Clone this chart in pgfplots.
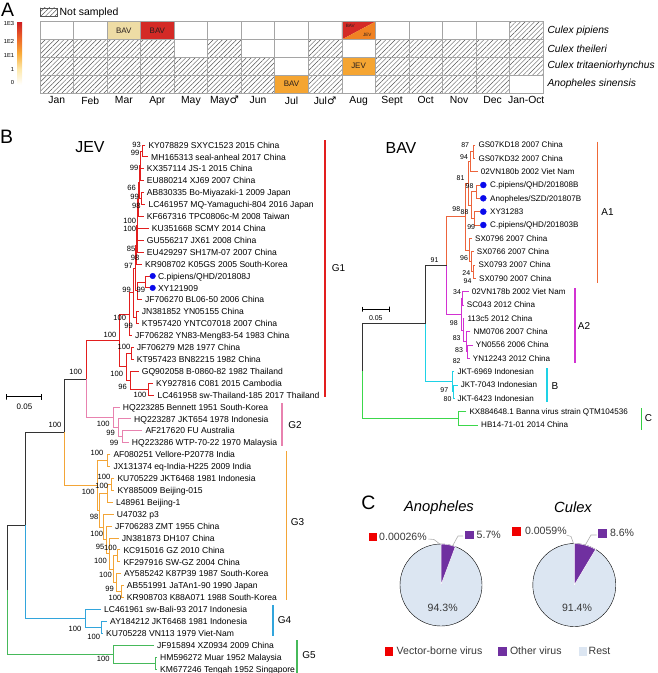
\documentclass[border=0pt]{standalone}
\usepackage{pgfplots}
\pgfplotsset{compat=1.18}
\usepackage{fontspec}
\setmainfont{Liberation Sans}
\newfontfamily\dejavu{DejaVu Sans}
\usetikzlibrary{patterns.meta}
\newcommand{\fs}[1]{\fontsize{#1}{#1}\selectfont}
\definecolor{cellgrid}{RGB}{165,165,165}
\definecolor{hatchc}{RGB}{85,85,85}
\definecolor{beige}{RGB}{238,220,165}
\definecolor{bavred}{RGB}{212,42,38}
\definecolor{bavorange}{RGB}{245,165,50}
\definecolor{jevorange}{RGB}{240,130,35}
\definecolor{celltext}{RGB}{40,30,30}
\definecolor{cGa}{RGB}{226,30,30}
\definecolor{cGb}{RGB}{232,130,175}
\definecolor{cGc}{RGB}{243,165,55}
\definecolor{cGd}{RGB}{50,165,220}
\definecolor{cGe}{RGB}{70,185,90}
\definecolor{cAa}{RGB}{236,100,60}
\definecolor{cAb}{RGB}{210,50,210}
\definecolor{cBb}{RGB}{30,210,230}
\definecolor{cCc}{RGB}{60,215,75}
\definecolor{dotblue}{RGB}{10,10,235}
\definecolor{restc}{RGB}{220,230,242}
\definecolor{otherc}{RGB}{112,48,160}
\definecolor{vecc}{RGB}{240,0,0}
\definecolor{darktext}{RGB}{55,55,55}
\definecolor{leader}{RGB}{175,175,175}
\tikzset{
  hatch/.style={pattern={Lines[angle=45,distance=3.3bp,line width=0.45bp]}, pattern color=hatchc},
  lf/.style={anchor=west, inner sep=0pt, font=\fs{8.6}, text height=6.2bp, text depth=0bp},
  lfb/.style={anchor=west, inner sep=0pt, font=\fs{8.1}, text height=5.8bp, text depth=0bp},
  bs/.style={inner sep=0pt, font=\fs{7.6}},
  bsb/.style={inner sep=0pt, font=\fs{7.0}},
  cl/.style={inner sep=0pt, font=\fs{10}},
}
\pgfplotsset{tr/.style={line width=0.95bp, mark=none}, cbar/.style={line width=1.6bp, mark=none}}
\begin{document}
\begin{tikzpicture}
\useasboundingbox (0,0) rectangle (658bp,673bp);
% ---------------- Panel A: heatmap ----------------
\begin{axis}[
  at={(40bp,580bp)}, anchor=south west,
  scale only axis, width=503bp, height=71.3bp,
  xmin=0, xmax=15, ymin=0, ymax=4,
  axis line style={cellgrid, line width=0.6bp},
  xtick={0.5,1.5,...,14.5},
  xticklabels={Jan,Feb,Mar,Apr,May,May{\dejavu ♂},Jun,Jul,Jul{\dejavu ♂},Aug,Sept,Oct,Nov,Dec,Jan-Oct},
  xticklabel style={font=\fs{10.4}},
  ytick={0.5,1.5,2.5,3.5},
  yticklabels={Anopheles sinensis,Culex tritaeniorhynchus,Culex theileri,Culex pipiens},
  yticklabel pos=right,
  yticklabel style={font=\itshape\fs{10.3}, xshift=1bp},
  major tick length=0pt, minor tick length=0pt,
  minor xtick={1,...,14}, minor ytick={1,2,3},
  xminorgrids, yminorgrids,
  minor grid style={cellgrid, line width=0.6bp},
  axis on top,
  colorbar left,
  colormap={heat}{rgb255=(255,255,255) rgb255=(253,232,170) rgb255=(249,170,55) rgb255=(236,98,40) rgb255=(205,28,34)},
  point meta min=0, point meta max=4,
  colorbar style={at={(parent axis.north west)}, anchor=north east, xshift=-9.3bp,
    width=4.6bp, height=63bp,
    ytick={0.13,0.95,1.86,2.75,3.87}, yticklabels={0,1,1E1,1E2,1E3},
    yticklabel style={font=\fs{5.8}}, major tick length=0pt, axis line style={draw=none}},
  legend style={at={(0,1)}, anchor=south west, yshift=3bp, draw=none, fill=none,
    font=\fs{10.5}, inner sep=0pt},
]
\addlegendimage{legend image code/.code={\draw[hatch, draw=hatchc, line width=0.5bp] (0bp,-4bp) rectangle (17bp,4bp);}}
\addlegendentry{Not sampled}
% not sampled cells
\addplot[draw=none, hatch, forget plot] coordinates {(0,0) (4,0) (4,3) (0,3)};
\addplot[draw=none, hatch, forget plot] coordinates {(4,0) (5,0) (5,2) (4,2)};
\addplot[draw=none, hatch, forget plot] coordinates {(5,0) (6,0) (6,3) (5,3)};
\addplot[draw=none, hatch, forget plot] coordinates {(6,0) (7,0) (7,2) (6,2)};
\addplot[draw=none, hatch, forget plot] coordinates {(8,0) (9,0) (9,3) (8,3)};
\addplot[draw=none, hatch, forget plot] coordinates {(10,0) (14,0) (14,3) (10,3)};
\addplot[draw=none, hatch, forget plot] coordinates {(14,1) (15,1) (15,4) (14,4)};
% virus detections
\addplot[draw=none, fill=beige, forget plot] coordinates {(2,3) (3,3) (3,4) (2,4)};
\addplot[draw=none, fill=bavred, forget plot] coordinates {(3,3) (4,3) (4,4) (3,4)};
\addplot[draw=none, fill=bavorange, forget plot] coordinates {(7,0) (8,0) (8,1) (7,1)};
\addplot[draw=none, fill=bavorange, forget plot] coordinates {(9,1) (10,1) (10,2) (9,2)};
\addplot[draw=none, fill=bavred, forget plot] coordinates {(9,3) (9,4) (10,4)};
\addplot[draw=none, fill=jevorange, forget plot] coordinates {(9,3) (10,3) (10,4)};
\node[font=\fs{8}, text=celltext] at (axis cs:2.5,3.5) {BAV};
\node[font=\fs{8}, text=celltext] at (axis cs:3.5,3.5) {BAV};
\node[font=\fs{8}, text=celltext] at (axis cs:7.5,0.5) {BAV};
\node[font=\fs{8}, text=celltext] at (axis cs:9.5,1.5) {JEV};
\node[font=\fs{4.6}, text=celltext] at (axis cs:9.25,3.78) {BAV};
\node[font=\fs{4.6}, text=celltext] at (axis cs:9.76,3.26) {JEV};
\end{axis}
% ---------------- Panels B and C ----------------
\begin{axis}[at={(0,0)}, anchor=south west, scale only axis, width=658bp, height=673bp,
  xmin=0, xmax=658, ymin=0, ymax=673, y dir=reverse, hide axis, clip=false,
  clip mode=individual]
\node[font=\fs{19.5}] at (axis cs:7.5,10.3) {A};
\node[font=\fs{19.5}] at (axis cs:6.7,136.7) {B};
\node[font=\fs{19.5}] at (axis cs:368.3,503.3) {C};
\node[font=\fs{16}] at (axis cs:90,147.5) {JEV};
\node[font=\fs{16}] at (axis cs:401,148.5) {BAV};
% ===== JEV tree =====
% G1 (red)
\addplot[tr,cGa] coordinates {(145.3,145.0) (142.5,145.0) (142.5,156.9) (148,156.9)};
\addplot[tr,cGa] coordinates {(142.5,151) (140.5,151) (140.5,180.7) (143.7,180.7)};
\addplot[tr,cGa] coordinates {(140.5,168.8) (143.7,168.8)};
\addplot[tr,cGa] coordinates {(143.7,192.6) (141.5,192.6) (141.5,204.6) (145.3,204.6)};
\addplot[tr,cGa] coordinates {(140.5,165.8) (139.5,165.8) (139.5,198.6) (141.5,198.6)};
\addplot[tr,cGa] coordinates {(139.5,182.2) (138.5,182.2) (138.5,216.5) (143.7,216.5)};
\addplot[tr,cGa] coordinates {(138.5,199.4) (137.5,199.4) (137.5,252.2) (143.7,252.2)};
\addplot[tr,cGa] coordinates {(137.5,228.4) (148.7,228.4)};
\addplot[tr,cGa] coordinates {(137.5,240.3) (143.7,240.3)};
\addplot[tr,cGa] coordinates {(137.5,225.8) (136.5,225.8) (136.5,264.1) (142,264.1)};
\addplot[tr,cGa] coordinates {(150,276.0) (145,276.0) (145,287.9) (150,287.9)};
\addplot[tr,cGa] coordinates {(145,282) (137,282) (137,299.8) (142,299.8)};
\addplot[tr,cGa] coordinates {(136.5,245) (135,245) (135,290.9) (137,290.9)};
\addplot[tr,cGa] coordinates {(138.7,311.7) (136,311.7) (136,323.7) (138.7,323.7)};
\addplot[tr,cGa] coordinates {(135,268) (133,268) (133,317.7) (136,317.7)};
\addplot[tr,cGa] coordinates {(133,292.8) (129.5,292.8) (129.5,335.6) (132,335.6)};
\addplot[tr,cGa] coordinates {(133.7,347.5) (131,347.5) (131,359.4) (133.7,359.4)};
\addplot[tr,cGa] coordinates {(153,383.2) (148,383.2) (148,395.1) (154.3,395.1)};
\addplot[tr,cGa] coordinates {(138.7,371.3) (130,371.3) (130,389.2) (148,389.2)};
\addplot[tr,cGa] coordinates {(131,353.5) (126,353.5) (126,380.2) (130,380.2)};
\addplot[tr,cGa] coordinates {(129.5,314.2) (119,314.2) (119,366.9) (126,366.9)};
\addplot[tr,cGa] coordinates {(119,340.5) (86,340.5) (86,379)};
% G2 (pink)
\addplot[tr,cGb] coordinates {(86,379) (86,417.4) (113,417.4)};
\addplot[tr,cGb] coordinates {(142.3,430.8) (122,430.8) (122,442.8) (128.7,442.8)};
\addplot[tr,cGb] coordinates {(131,418.9) (118,418.9) (118,436.8) (122,436.8)};
\addplot[tr,cGb] coordinates {(119.7,407.0) (113,407.0) (113,427.9) (118,427.9)};
% backbone
\addplot[tr,black!80] coordinates {(86,379) (64,379) (64,432.3)};
\addplot[tr,cGc] coordinates {(64,432.3) (64,485.5) (97,485.5)};
% G3 (orange)
\addplot[tr,cGc] coordinates {(110.3,454.7) (107,454.7) (107,466.6) (110.3,466.6)};
\addplot[tr,cGc] coordinates {(114.3,478.5) (111,478.5) (111,490.4) (114.3,490.4)};
\addplot[tr,cGc] coordinates {(111,484.5) (107,484.5) (107,502.3) (113,502.3)};
\addplot[tr,cGc] coordinates {(120.3,549.9) (117,549.9) (117,561.9) (120.3,561.9)};
\addplot[tr,cGc] coordinates {(123.7,585.7) (121,585.7) (121,597.6) (123.7,597.6)};
\addplot[tr,cGc] coordinates {(121,573.8) (116,573.8) (116,591.7) (121,591.7)};
\addplot[tr,cGc] coordinates {(117,555.9) (113,555.9) (113,582.8) (116,582.8)};
\addplot[tr,cGc] coordinates {(118.7,538.0) (109,538.0) (109,569.4) (113,569.4)};
\addplot[tr,cGc] coordinates {(112,526.1) (106,526.1) (106,553.7) (109,553.7)};
\addplot[tr,cGc] coordinates {(113.7,514.2) (103,514.2) (103,539.9) (106,539.9)};
\addplot[tr,cGc] coordinates {(107,493.4) (99,493.4) (99,527.1) (103,527.1)};
\addplot[tr,cGc] coordinates {(107,460.7) (97,460.7) (97,510.3) (99,510.3)};
% G4 (blue)
\addplot[tr,black!80] coordinates {(64,432.3) (25,432.3) (25,525.4)};
\addplot[tr,cGd] coordinates {(25,525.4) (25,618.5) (85,618.5)};
\addplot[tr,cGd] coordinates {(107,621.4) (101,621.4) (101,633.3) (103,633.3)};
\addplot[tr,cGd] coordinates {(101,609.5) (85,609.5) (85,627.4) (101,627.4)};
% root and G5 (green)
\addplot[tr,black!80] coordinates {(25,525.4) (7,525.4) (7,589.8)};
\addplot[tr,cGe] coordinates {(7,589.8) (7,654.2) (113,654.2)};
\addplot[tr,cGe] coordinates {(157,657.1) (155.5,657.1) (155.5,669.0) (157,669.0)};
\addplot[tr,cGe] coordinates {(154,645.2) (113,645.2) (113,663.1) (155.5,663.1)};
% blue dots
\addplot[only marks, mark=*, mark size=2.8bp, dotblue] coordinates {(152.7,276.0) (152.7,287.9)};
% JEV leaf labels
\node[lf] at (axis cs:148.3,145.0) {KY078829 SXYC1523 2015 China};
\node[lf] at (axis cs:151.0,156.9) {MH165313 seal-anheal 2017 China};
\node[lf] at (axis cs:146.7,168.8) {KX357114 JS-1 2015 China};
\node[lf] at (axis cs:146.7,180.7) {EU880214 XJ69 2007 China};
\node[lf] at (axis cs:146.7,192.6) {AB830335 Bo-Miyazaki-1 2009 Japan};
\node[lf] at (axis cs:148.3,204.6) {LC461957 MQ-Yamaguchi-804 2016 Japan};
\node[lf] at (axis cs:146.7,216.5) {KF667316 TPC0806c-M 2008 Taiwan};
\node[lf] at (axis cs:151.7,228.4) {KU351668 SCMY 2014 China};
\node[lf] at (axis cs:146.7,240.3) {GU556217 JX61 2008 China};
\node[lf] at (axis cs:146.7,252.2) {EU429297 SH17M-07 2007 China};
\node[lf] at (axis cs:145.0,264.1) {KR908702 K05GS 2005 South-Korea};
\node[lf] at (axis cs:157.8,276.0) {C.pipiens/QHD/201808J};
\node[lf] at (axis cs:157.8,287.9) {XY121909};
\node[lf] at (axis cs:145.0,299.8) {JF706270 BL06-50 2006 China};
\node[lf] at (axis cs:141.7,311.7) {JN381852 YN05155 China};
\node[lf] at (axis cs:141.7,323.7) {KT957420 YNTC07018 2007 China};
\node[lf] at (axis cs:135.0,335.6) {JF706282 YN83-Meng83-54 1983 China};
\node[lf] at (axis cs:136.7,347.5) {JF706279 M28 1977 China};
\node[lf] at (axis cs:136.7,359.4) {KT957423 BN82215 1982 China};
\node[lf] at (axis cs:141.7,371.3) {GQ902058 B-0860-82 1982 Thailand};
\node[lf] at (axis cs:156.0,383.2) {KY927816 C081 2015 Cambodia};
\node[lf] at (axis cs:157.3,395.1) {LC461958 sw-Thailand-185 2017 Thailand};
\node[lf] at (axis cs:122.7,407.0) {HQ223285 Bennett 1951 South-Korea};
\node[lf] at (axis cs:134.0,418.9) {HQ223287 JKT654 1978 Indonesia};
\node[lf] at (axis cs:145.3,430.8) {AF217620 FU Australia};
\node[lf] at (axis cs:131.7,442.8) {HQ223286 WTP-70-22 1970 Malaysia};
\node[lf] at (axis cs:113.3,454.7) {AF080251 Vellore-P20778 India};
\node[lf] at (axis cs:113.3,466.6) {JX131374 eq-India-H225 2009 India};
\node[lf] at (axis cs:117.3,478.5) {KU705229 JKT6468 1981 Indonesia};
\node[lf] at (axis cs:117.3,490.4) {KY885009 Beijing-015};
\node[lf] at (axis cs:116.0,502.3) {L48961 Beijing-1};
\node[lf] at (axis cs:116.7,514.2) {U47032 p3};
\node[lf] at (axis cs:115.0,526.1) {JF706283 ZMT 1955 China};
\node[lf] at (axis cs:121.7,538.0) {JN381873 DH107 China};
\node[lf] at (axis cs:123.3,549.9) {KC915016 GZ 2010 China};
\node[lf] at (axis cs:123.3,561.9) {KF297916 SW-GZ 2004 China};
\node[lf] at (axis cs:124.0,573.8) {AY585242 K87P39 1987 South-Korea};
\node[lf] at (axis cs:126.7,585.7) {AB551991 JaTAn1-90 1990 Japan};
\node[lf] at (axis cs:126.7,597.6) {KR908703 K88A071 1988 South-Korea};
\node[lf] at (axis cs:104.0,609.5) {LC461961 sw-Bali-93 2017 Indonesia};
\node[lf] at (axis cs:110.0,621.4) {AY184212 JKT6468 1981 Indonesia};
\node[lf] at (axis cs:106.0,633.3) {KU705228 VN113 1979 Viet-Nam};
\node[lf] at (axis cs:157.0,645.2) {JF915894 XZ0934 2009 China};
\node[lf] at (axis cs:160.0,657.1) {HM596272 Muar 1952 Malaysia};
\node[lf] at (axis cs:160.0,669.0) {KM677246 Tengah 1952 Singapore};
% JEV bootstrap values
\node[bs] at (axis cs:136.7,145) {93};
\node[bs] at (axis cs:135,153.3) {99};
\node[bs] at (axis cs:134,167.7) {99};
\node[bs] at (axis cs:131.5,188.3) {66};
\node[bs] at (axis cs:134.5,196.5) {99};
\node[bs] at (axis cs:136.3,205.5) {98};
\node[bs] at (axis cs:129.7,220.7) {100};
\node[bs] at (axis cs:129.7,228.6) {100};
\node[bs] at (axis cs:131,249) {85};
\node[bs] at (axis cs:135,258.3) {98};
\node[bs] at (axis cs:128.5,265.5) {97};
\node[bs] at (axis cs:126.7,290) {99};
\node[bs] at (axis cs:140.8,290) {99};
\node[bs] at (axis cs:119.7,318.3) {100};
\node[bs] at (axis cs:128.7,325.5) {99};
\node[bs] at (axis cs:110,335) {100};
\node[bs] at (axis cs:124,346.7) {100};
\node[bs] at (axis cs:116.7,374) {100};
\node[bs] at (axis cs:122.5,387.3) {96};
\node[bs] at (axis cs:140,395) {100};
\node[bs] at (axis cs:75.8,372.3) {100};
\node[bs] at (axis cs:55,425) {100};
\node[bs] at (axis cs:103.3,424) {100};
\node[bs] at (axis cs:110.5,433.3) {99};
\node[bs] at (axis cs:114,442.7) {99};
\node[bs] at (axis cs:97,453.3) {100};
\node[bs] at (axis cs:104,476.8) {100};
\node[bs] at (axis cs:101.7,485.5) {100};
\node[bs] at (axis cs:88.3,491.7) {100};
\node[bs] at (axis cs:94,516.7) {98};
\node[bs] at (axis cs:96.7,534) {100};
\node[bs] at (axis cs:100,546.7) {95};
\node[bs] at (axis cs:110.5,547.7) {100};
\node[bs] at (axis cs:100.5,561) {100};
\node[bs] at (axis cs:105.5,575) {100};
\node[bs] at (axis cs:109.7,589.3) {99};
\node[bs] at (axis cs:115,598.3) {100};
\node[bs] at (axis cs:75,629.3) {100};
\node[bs] at (axis cs:93.7,637.3) {100};
\node[bs] at (axis cs:103.3,659.3) {100};
% JEV clade bars
\addplot[cbar, cGa] coordinates {(325,140) (325,397)};
\addplot[cbar, cGb] coordinates {(282,403) (282,446)};
\addplot[cbar, cGc] coordinates {(286.5,451) (286.5,600)};
\addplot[cbar, cGd] coordinates {(273,605) (273,636)};
\addplot[cbar, cGe] coordinates {(297,640) (297,673)};
\node[cl] at (axis cs:338.5,268) {G1};
\node[cl] at (axis cs:295,425) {G2};
\node[cl] at (axis cs:297.5,522) {G3};
\node[cl] at (axis cs:284.5,620.5) {G4};
\node[cl] at (axis cs:309,655) {G5};
% JEV scale bar
\addplot[black, line width=0.8bp] coordinates {(6.7,394) (6.7,399.5) (6.7,396.7) (41.7,396.7) (41.7,394) (41.7,399.5)};
\node[inner sep=0pt, font=\fs{8}] at (axis cs:24.5,407) {0.05};
% ===== BAV tree =====
\addplot[tr,cAa] coordinates {(475.3,145.0) (473,145.0) (473,158.3) (475.3,158.3)};
\addplot[tr,cAa] coordinates {(473,151.7) (470,151.7) (470,171.7) (477.7,171.7)};
\addplot[tr,cAa] coordinates {(480,185.0) (476,185.0) (476,198.3) (480,198.3)};
\addplot[tr,cAa] coordinates {(480,211.7) (474,211.7) (474,225.0) (480,225.0)};
\addplot[tr,cAa] coordinates {(476,191.7) (471,191.7) (471,218.3) (474,218.3)};
\addplot[tr,cAa] coordinates {(470,161.7) (468,161.7) (468,205) (471,205)};
\addplot[tr,cAa] coordinates {(475.3,265.0) (473,265.0) (473,278.3) (476,278.3)};
\addplot[tr,cAa] coordinates {(473.7,251.6) (471,251.6) (471,271.7) (473,271.7)};
\addplot[tr,cAa] coordinates {(472,238.3) (469,238.3) (469,261.7) (471,261.7)};
\addplot[tr,cAa] coordinates {(468,183.3) (465,183.3) (465,250) (469,250)};
\addplot[tr,cAa] coordinates {(465,216.7) (446.7,216.7) (446.7,265.5)};
\addplot[tr,cAb] coordinates {(446.7,265.5) (446.7,314.2) (461,314.2)};
\addplot[tr,cAb] coordinates {(468.7,291.6) (462.5,291.6) (462.5,305.0) (463.7,305.0)};
\addplot[tr,cAb] coordinates {(472.7,345.0) (467.5,345.0) (467.5,358.3) (469.7,358.3)};
\addplot[tr,cAb] coordinates {(470.3,331.6) (466,331.6) (466,351.7) (467.5,351.7)};
\addplot[tr,cAb] coordinates {(464.3,318.3) (463,318.3) (463,341.7) (466,341.7)};
\addplot[tr,cAb] coordinates {(462.5,298.3) (461,298.3) (461,330) (463,330)};
\addplot[tr,black!80] coordinates {(446.7,265.5) (425.7,265.5) (425.7,323.6)};
\addplot[tr,cBb] coordinates {(425.7,323.6) (425.7,381.7) (452,381.7)};
\addplot[tr,cBb] coordinates {(457.7,385.0) (453,385.0) (453,398.3) (454.5,398.3)};
\addplot[tr,cBb] coordinates {(454.3,371.6) (452,371.6) (452,391.7) (453,391.7)};
\addplot[tr,black!80] coordinates {(425.7,323.6) (362.7,323.6) (362.7,371)};
\addplot[tr,cCc] coordinates {(362.7,371) (362.7,418.3) (458.3,418.3)};
\addplot[tr,cCc] coordinates {(466.3,411.6) (458.3,411.6) (458.3,425.0) (478,425.0)};
\addplot[only marks, mark=*, mark size=3bp, dotblue] coordinates {(483.3,185.0) (483.3,198.3) (483.3,211.7) (483.3,225.0)};
% BAV leaf labels
\node[lfb] at (axis cs:478.3,145.0) {GS07KD18 2007 China};
\node[lfb] at (axis cs:478.3,158.3) {GS07KD32 2007 China};
\node[lfb] at (axis cs:480.7,171.7) {02VN180b 2002 Viet Nam};
\node[lfb] at (axis cs:490,185.0) {C.pipiens/QHD/201808B};
\node[lfb] at (axis cs:490,198.3) {Anopheles/SZD/201807B};
\node[lfb] at (axis cs:490,211.7) {XY31283};
\node[lfb] at (axis cs:490,225.0) {C.pipiens/QHD/201803B};
\node[lfb] at (axis cs:475.0,238.3) {SX0796 2007 China};
\node[lfb] at (axis cs:476.7,251.6) {SX0766 2007 China};
\node[lfb] at (axis cs:478.3,265.0) {SX0793 2007 China};
\node[lfb] at (axis cs:479.0,278.3) {SX0790 2007 China};
\node[lfb] at (axis cs:471.7,291.6) {02VN178b 2002 Viet Nam};
\node[lfb] at (axis cs:466.7,305.0) {SC043 2012 China};
\node[lfb] at (axis cs:467.3,318.3) {113c5 2012 China};
\node[lfb] at (axis cs:473.3,331.6) {NM0706 2007 China};
\node[lfb] at (axis cs:475.7,345.0) {YN0556 2006 China};
\node[lfb] at (axis cs:472.7,358.3) {YN12243 2012 China};
\node[lfb] at (axis cs:457.3,371.6) {JKT-6969 Indonesian};
\node[lfb] at (axis cs:460.7,385.0) {JKT-7043 Indonesian};
\node[lfb] at (axis cs:457.3,398.3) {JKT-6423 Indonesian};
\node[lfb] at (axis cs:469.3,411.6) {KX884648.1 Banna virus strain QTM104536};
\node[lfb] at (axis cs:481.0,425.0) {HB14-71-01 2014 China};
% BAV bootstrap values
\node[bsb] at (axis cs:465.2,145) {87};
\node[bsb] at (axis cs:464,156.7) {94};
\node[bsb] at (axis cs:460.5,178.3) {81};
\node[bsb] at (axis cs:469.5,186) {98};
\node[bsb] at (axis cs:456.3,209.5) {98};
\node[bsb] at (axis cs:464.5,212.2) {88};
\node[bsb] at (axis cs:471.2,226.7) {99};
\node[bsb] at (axis cs:464,257.7) {96};
\node[bsb] at (axis cs:466.3,272.8) {24};
\node[bsb] at (axis cs:467.5,281.2) {94};
\node[bsb] at (axis cs:434.5,260) {91};
\node[bsb] at (axis cs:457,291.7) {34};
\node[bsb] at (axis cs:453.8,323.3) {98};
\node[bsb] at (axis cs:456.7,338.3) {83};
\node[bsb] at (axis cs:459,350) {83};
\node[bsb] at (axis cs:456.7,360.9) {82};
\node[bsb] at (axis cs:444.3,390) {97};
\node[bsb] at (axis cs:447.5,399.5) {80};
% BAV clade bars
\addplot[cbar, draw={rgb,255:red,238;green,105;blue,55}] coordinates {(597.5,141.7) (597.5,283.3)};
\addplot[cbar, color=cAb] coordinates {(575,288.3) (575,363.3)};
\addplot[cbar, color=cBb] coordinates {(546.7,368.3) (546.7,401.7)};
\addplot[cbar, draw={rgb,255:red,50;green,205;blue,65}] coordinates {(641.5,408.3) (641.5,430)};
\node[cl] at (axis cs:607.5,211.7) {A1};
\node[cl] at (axis cs:584,325.7) {A2};
\node[cl] at (axis cs:555,385.7) {B};
\node[cl] at (axis cs:648.5,418.3) {C};
% BAV scale bar
\addplot[black, line width=0.8bp] coordinates {(362.7,306.5) (362.7,311.5) (362.7,309) (389.3,309) (389.3,306.5) (389.3,311.5)};
\node[inner sep=0pt, font=\fs{7}] at (axis cs:375.8,318.3) {0.05};
% ===== Panel C: pies =====
\node[font=\itshape\fs{14.8}] at (axis cs:439,507.5) {Anopheles};
\node[font=\itshape\fs{14.8}] at (axis cs:573,507.5) {Culex};
\addplot[only marks, mark=*, mark size=41bp, mark options={fill=restc, draw=none}] coordinates {(441,585)};
\addplot[fill=otherc, draw=white, line width=0.5bp] coordinates {(441,585) (441,544) (444.5,544.15) (448.3,544.66) (451.9,545.47) (455.37,546.6) (441,585)};
\addplot[only marks, mark=*, mark size=41.5bp, mark options={fill=restc, draw=none}] coordinates {(574.3,585)};
\addplot[fill=otherc, draw=white, line width=0.5bp] coordinates {(574.3,585) (574.3,543.5) (579.9,543.9) (585.4,545.0) (590.7,546.9) (595.6,549.4) (574.3,585)};
% leader lines
\addplot[leader, line width=0.6bp] coordinates {(428.5,539) (434,539.5) (440.5,544.5)};
\addplot[leader, line width=0.6bp] coordinates {(452.5,546) (458,536) (463,536)};
\addplot[leader, line width=0.6bp] coordinates {(566.5,535) (571,536.5) (573.5,543.5)};
\addplot[leader, line width=0.6bp] coordinates {(585,545.5) (591,535) (596.5,535)};
% squares
\addplot[only marks, mark=square*, mark size=3.7bp, vecc] coordinates {(372.5,536.8) (516.3,531.2) (388.8,651.2)};
\addplot[only marks, mark=square*, mark size=3.7bp, otherc] coordinates {(469.2,534.5) (602.2,533) (502.2,651.2)};
\addplot[only marks, mark=square*, mark size=3.7bp, restc] coordinates {(582.5,651.2)};
\node[anchor=west, inner sep=0pt, font=\fs{10.6}, text=darktext] at (axis cs:379,537) {0.00026\%};
\node[anchor=west, inner sep=0pt, font=\fs{10.6}, text=darktext] at (axis cs:476.5,534.5) {5.7\%};
\node[anchor=west, inner sep=0pt, font=\fs{10.6}, text=darktext] at (axis cs:524.8,531.2) {0.0059\%};
\node[anchor=west, inner sep=0pt, font=\fs{10.6}, text=darktext] at (axis cs:609.8,533) {8.6\%};
\node[inner sep=0pt, font=\fs{10.6}, text=darktext] at (axis cs:442.7,607.7) {94.3\%};
\node[inner sep=0pt, font=\fs{10.6}, text=darktext] at (axis cs:577,607.7) {91.4\%};
\node[anchor=west, inner sep=0pt, font=\fs{10.6}, text=darktext] at (axis cs:396.5,651.2) {Vector-borne virus};
\node[anchor=west, inner sep=0pt, font=\fs{10.6}, text=darktext] at (axis cs:509.8,651.2) {Other virus};
\node[anchor=west, inner sep=0pt, font=\fs{10.6}, text=darktext] at (axis cs:588.5,651.2) {Rest};
\end{axis}
\end{tikzpicture}
\end{document}
